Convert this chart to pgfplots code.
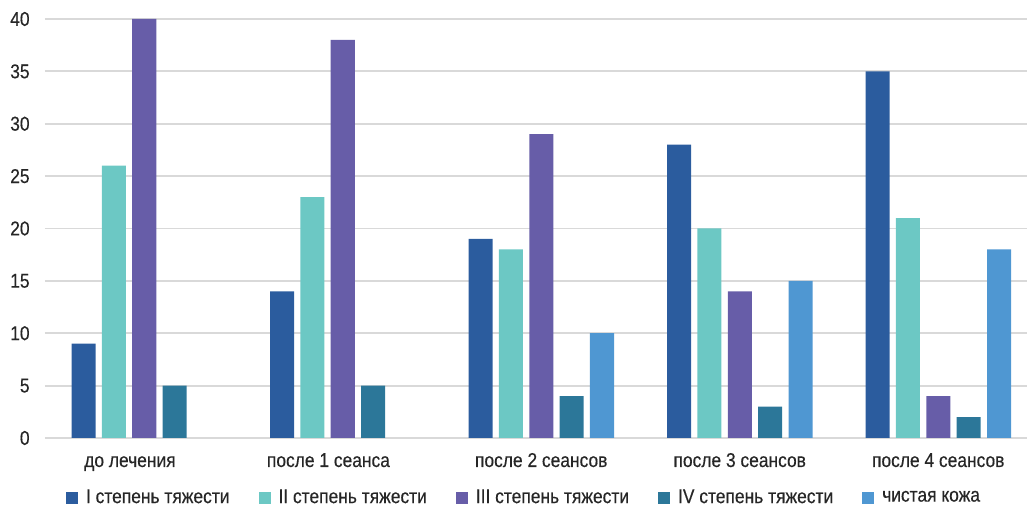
\documentclass[border=0pt]{standalone}
\usepackage{fontspec}
\setmainfont[FakeStretch=0.87, FakeBold=0.3]{Liberation Sans}
\usepackage{pgfplots}
\pgfplotsset{compat=1.18}

\definecolor{sevI}{HTML}{2B5C9E}
\definecolor{sevII}{HTML}{6CC8C4}
\definecolor{sevIII}{HTML}{675DA8}
\definecolor{sevIV}{HTML}{2C7799}
\definecolor{clean}{HTML}{4F97D2}
\definecolor{gridgray}{HTML}{D9D9D9}
\definecolor{txt}{HTML}{262626}

\begin{document}
\begin{tikzpicture}
\begin{axis}[
  at={(22.5pt,35pt)}, anchor=south west,
  scale only axis, width=491pt, height=209.5pt,
  xmin=-0.5, xmax=4.447, ymin=0, ymax=40,
  axis line style={draw=none},
  major tick length=0pt, tick style={draw=none},
  ytick={0,5,...,40},
  ymajorgrids, grid style={color=gridgray, line width=0.9pt},
  xtick={-0.072,0.928,2,3,4},
  xticklabels={до лечения, после 1 сеанса, после 2 сеансов, после 3 сеансов, после 4 сеансов},
  ticklabel style={font=\fontsize{10}{12}\selectfont, text=txt},
  /pgf/number format/assume math mode=true,
  yticklabel style={anchor=east, inner sep=0pt, xshift=-7.5pt},
  xticklabel style={anchor=base, inner sep=0pt, yshift=-14.5pt},
  ybar, bar width=0.121,
  legend columns=5,
  legend style={at={(0.4888,-0.1425)}, anchor=center, draw=none,
    font=\fontsize{10}{12}\selectfont, text=txt,
    /tikz/every even column/.append style={column sep=12.5pt},
    inner sep=0pt},
  legend image code/.code={\fill[#1] (0pt,-3pt) rectangle (6pt,3pt); \path (8pt,0pt);},
]
\addplot[fill=sevI, draw=none, bar shift=-0.306]
  coordinates {(0,9) (1,14) (2,19) (3,28) (4,35)};
\addlegendentry{I степень тяжести}
\addplot[fill=sevII, draw=none, bar shift=-0.153]
  coordinates {(0,26) (1,23) (2,18) (3,20) (4,21)};
\addlegendentry{II степень тяжести}
\addplot[fill=sevIII, draw=none, bar shift=0]
  coordinates {(0,40) (1,38) (2,29) (3,14) (4,4)};
\addlegendentry{III степень тяжести}
\addplot[fill=sevIV, draw=none, bar shift=0.153]
  coordinates {(0,5) (1,5) (2,4) (3,3) (4,2)};
\addlegendentry{IV степень тяжести}
\addplot[fill=clean, draw=none, bar shift=0.306]
  coordinates {(2,10) (3,15) (4,18)};
\addlegendentry{чистая кожа}
\end{axis}
\pgfresetboundingbox
\path[use as bounding box] (0,0) rectangle (514.5pt,254pt);
\end{tikzpicture}
\end{document}
